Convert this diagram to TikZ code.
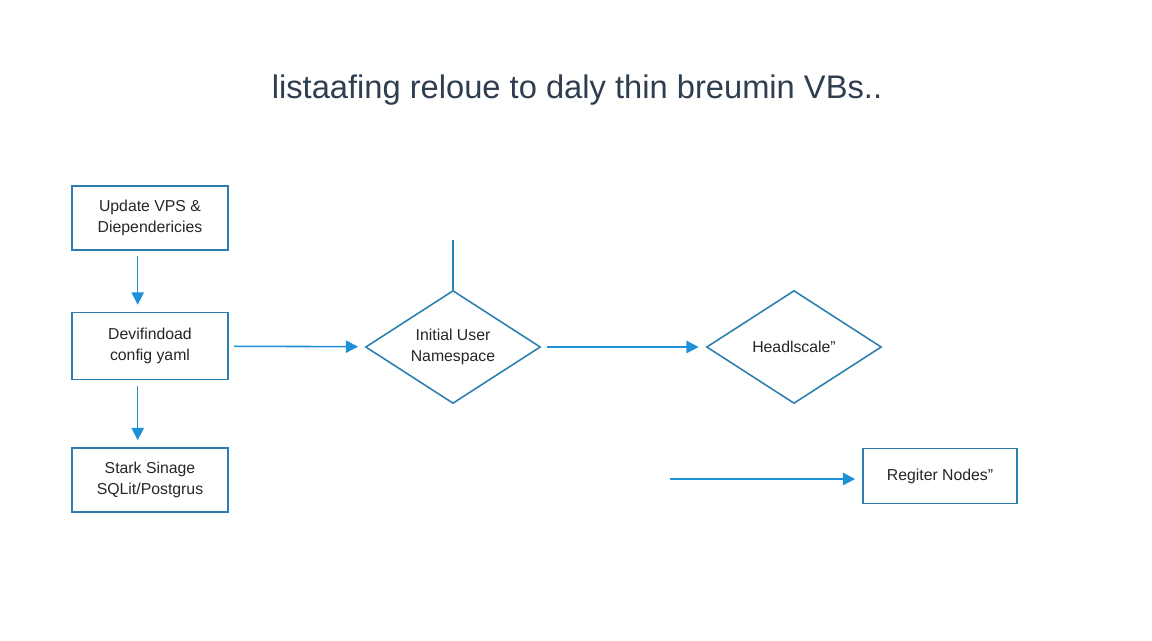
\documentclass[tikz,border=0pt]{standalone}
\usepackage{fontspec}
\setmainfont{Liberation Sans}
\usetikzlibrary{shapes.geometric,arrows.meta}
\definecolor{boxblue}{HTML}{2C7FB0}
\definecolor{arrowblue}{HTML}{1E90D8}
\definecolor{titlegray}{HTML}{2E3E4E}
\begin{document}
\begin{tikzpicture}[x=0.02cm,y=-0.02cm]
	\tikzstyle{task}=[rectangle, minimum height=1.28cm, minimum width=3.12cm, draw=boxblue, line width=0.9pt, align=center, text=black!85, font=\fontsize{9}{11.5}\selectfont]
	\tikzstyle{choice}=[diamond, minimum height=2.26cm, minimum width=3.5cm, aspect=1.55, inner sep=0pt, draw=boxblue, line width=0.9pt, align=center, text=black!85, font=\fontsize{9}{11.5}\selectfont]
	\useasboundingbox (0,0) rectangle (1152,640);
	\node[text=titlegray, font=\fontsize{18.6}{22}\selectfont] (title) at (577,90) {listaafing reloue to daly thin breumin VBs..};

	\node[task] (update) at (150,218) {Update VPS \&\\Diependericies};
	\node[task, minimum height=1.34cm] (config) at (150,346) {Devifindoad\\config yaml};
	\node[task] (storage) at (150,480) {Stark Sinage\\SQLit/Postgrus};
	\node[choice] (user) at (453,347) {Initial User\\Namespace};
	\node[choice] (headscale) at (794,347) {Headlscale"};
	\node[task, minimum height=1.1cm, minimum width=3.08cm] (register) at (940,476) {Regiter Nodes"};

	\coordinate (top) at (453,240);
	\coordinate (free) at (665,479);

	\path[-{Triangle[length=7pt,width=7pt]}, arrowblue, line width=0.9pt, shorten <=3pt, shorten >=4pt]
		([xshift=-7]update.south) edge ([xshift=-7]config.north)
		([xshift=-7]config.south) edge ([xshift=-7]storage.north)
		(config) edge (user)
		(user) edge (headscale)
		(free) edge (register.west |- free);
	\draw[boxblue, line width=0.9pt] (top) -- (user.north);
\end{tikzpicture}
\end{document}
